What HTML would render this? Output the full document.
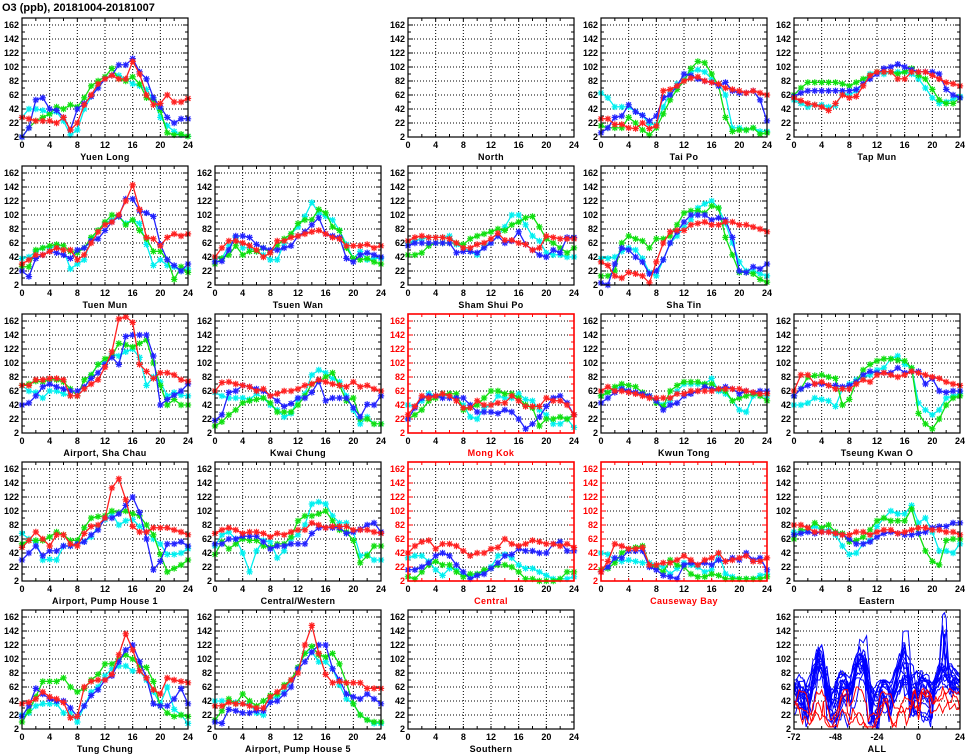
<!DOCTYPE html>
<html><head><meta charset="utf-8"><style>
html,body{margin:0;padding:0;background:#fff;}
svg{display:block;}
text{font-family:"Liberation Sans",sans-serif;font-weight:bold;}
</style></head>
<body>
<svg id="chart" width="965" height="755" viewBox="0 0 965 755" xmlns="http://www.w3.org/2000/svg">
<text x="2" y="11" font-size="11">O3 (ppb), 20181004-20181007</text>
</svg>
<script>
// series order in each station: [cyan(day1), green(day2), blue(day3), red(day4)]
const hours = [0,1,2,3,4,5,6,7,8,9,10,11,12,13,14,15,16,17,18,19,20,21,22,23,24];
const yTicks = [2,22,42,62,82,102,122,142,162];
const xTicks = [0,4,8,12,16,20,24];
const allXTicks = [-72,-48,-24,0,24];
const seriesColors = ['#00f0f0','#10e010','#2222ff','#ff2020'];
const seriesNames = ['cyan','green','blue','red'];

const yuenLong = [
[30,42,42,40,35,38,25,5,12,42,60,75,85,90,90,85,78,75,70,55,30,18,10,5,3],
[2,15,25,30,35,45,42,48,45,58,75,82,88,100,85,82,88,78,58,55,40,8,5,6,3],
[2,15,55,58,42,40,30,12,42,50,60,72,85,90,105,105,114,95,85,58,45,30,22,28,28],
[30,28,25,25,25,22,30,12,22,48,62,78,85,90,85,85,110,92,62,48,50,62,52,52,57]];
const taiPo = [
[65,58,45,45,45,38,33,20,20,45,65,78,85,95,98,95,85,78,62,15,15,12,15,10,10],
[18,15,15,15,30,22,12,5,15,35,55,70,82,100,110,108,92,75,30,10,12,12,15,6,8],
[8,15,30,32,48,38,33,25,32,58,62,75,92,90,85,82,80,75,80,68,65,65,68,55,25],
[28,28,20,20,15,14,22,14,18,68,70,75,82,86,88,82,80,78,72,70,68,65,68,65,62]];
const tapMun = [
[55,50,45,48,48,45,47,65,62,68,78,92,95,92,95,95,95,92,85,72,58,50,52,56,60],
[62,72,80,80,80,80,80,78,75,80,85,90,95,95,95,92,95,100,90,85,70,55,50,50,58],
[60,65,68,68,68,68,68,68,68,70,78,85,92,100,102,106,102,98,95,95,95,92,70,62,58],
[58,54,50,48,45,40,50,62,58,60,75,90,95,95,95,85,85,95,95,95,90,85,80,78,75]];
const tuenMun = [
[40,42,50,55,55,58,52,25,32,38,68,80,90,95,100,90,95,90,60,30,38,30,28,22,25],
[28,28,52,55,58,60,58,50,48,55,70,80,92,102,100,88,95,80,68,50,50,38,10,28,20],
[22,14,40,45,50,48,45,40,52,55,65,68,80,92,100,125,125,108,105,100,60,38,30,22,32],
[32,38,45,45,50,55,52,52,38,45,62,78,88,92,102,122,145,110,70,68,58,70,75,72,75]];
const tsuenWan = [
[40,40,58,70,55,55,50,45,38,38,62,75,85,100,120,105,100,95,80,60,40,50,38,40,40],
[32,40,45,58,45,50,50,55,48,58,68,75,90,95,95,110,105,85,80,55,40,38,40,35,32],
[35,36,52,72,72,70,60,55,52,52,55,58,72,78,88,98,75,72,70,40,35,45,48,45,42],
[42,55,65,65,62,58,52,42,48,65,65,70,72,75,78,80,75,70,68,58,58,58,60,55,58]];
const shamShuiPo = [
[62,65,68,70,70,70,72,60,55,50,45,58,62,72,85,102,102,88,72,65,48,45,45,42,42],
[45,45,48,58,62,62,62,62,60,68,72,75,78,82,80,88,92,98,100,85,68,62,55,48,55],
[58,62,62,62,62,62,62,48,50,50,48,55,62,72,62,65,78,60,52,45,42,52,48,70,70],
[65,70,72,70,70,70,68,62,55,55,60,62,68,76,66,66,62,60,52,55,72,70,68,68,68]];
const shaTin = [
[40,40,42,50,55,52,40,20,15,38,62,72,85,95,112,118,122,112,90,62,35,22,22,18,15],
[15,15,22,62,72,68,65,55,68,68,72,88,105,108,108,105,115,112,70,45,20,20,18,10,6],
[5,2,32,55,52,42,35,18,22,38,62,78,92,102,102,102,95,98,95,70,22,20,28,25,32],
[35,30,15,12,20,18,15,5,35,62,78,80,80,88,90,92,88,88,92,92,88,88,85,82,78]];
const airportShaChau = [
[70,62,60,52,62,62,58,55,55,65,85,100,102,115,112,118,122,110,70,82,75,55,60,56,55],
[70,72,76,75,78,78,75,65,55,78,85,100,108,112,130,128,125,130,135,102,70,42,50,42,42],
[42,45,55,68,72,68,65,62,62,68,80,88,100,110,100,140,142,142,142,112,42,50,56,62,72],
[70,70,78,78,80,80,78,55,55,65,72,78,96,118,165,168,160,100,90,80,88,88,85,78,76]];
const kwaiChung = [
[60,55,52,52,52,50,58,52,42,35,25,30,50,58,85,92,88,80,75,55,35,15,25,15,15],
[12,18,28,35,45,48,50,52,45,32,32,32,42,55,72,76,82,88,70,48,52,22,22,15,15],
[20,28,60,62,70,68,65,62,55,48,40,44,52,52,60,76,48,52,52,52,38,25,43,42,55],
[62,74,75,72,70,68,62,65,55,58,62,62,65,70,72,78,75,72,70,68,75,68,70,65,62]];
const mongKok = [
[42,40,48,58,55,55,55,52,42,25,22,38,42,55,52,52,58,50,48,35,28,15,15,22,10],
[22,28,35,48,52,58,58,58,35,38,42,52,62,62,58,58,52,42,38,12,22,22,25,22,28],
[22,38,52,55,55,52,52,52,52,42,32,32,32,30,35,32,22,8,15,25,40,52,55,45,28],
[28,40,55,52,55,58,55,48,38,38,48,42,42,45,45,55,48,40,40,40,52,48,48,42,28]];
const kwunTong = [
[55,60,65,68,62,60,58,55,48,42,48,62,72,72,72,72,80,62,58,48,35,32,55,55,55],
[55,60,68,72,70,68,60,55,45,40,62,70,75,75,75,72,72,65,62,48,52,55,58,55,48],
[45,52,60,65,62,60,58,55,48,35,42,45,55,58,62,68,65,65,68,65,58,62,60,62,62],
[62,68,62,62,60,58,55,52,52,52,52,58,58,62,62,62,62,65,65,65,65,62,60,58,58]];
const tseungKwanO = [
[42,42,45,52,50,48,40,65,72,78,82,85,92,95,108,112,100,95,45,35,28,35,52,55,58],
[55,65,82,84,85,82,80,42,50,75,92,100,105,108,108,106,105,95,30,15,8,22,42,52,55],
[55,65,70,72,72,70,70,68,70,75,85,90,88,88,88,95,88,90,90,72,80,62,60,62,62],
[62,85,85,72,75,70,65,65,65,72,78,75,85,88,85,82,85,90,88,85,82,80,75,72,70]];
const airportPH1 = [
[70,62,58,32,33,32,52,52,55,58,65,80,90,98,82,88,90,80,72,62,55,40,40,42,48],
[55,60,60,60,65,72,68,60,60,78,92,94,95,102,100,102,98,95,82,68,40,15,20,25,32],
[32,42,52,38,45,45,52,52,55,58,68,75,92,92,98,110,122,100,62,18,30,55,55,58,52],
[50,60,72,62,52,68,68,55,52,70,80,82,92,135,148,118,80,72,72,78,78,78,75,72,68]];
const centralWestern = [
[52,68,72,62,42,15,45,60,58,35,45,62,68,82,112,115,112,95,85,85,72,38,40,32,32],
[40,58,48,55,62,60,60,52,50,55,55,65,88,95,95,98,102,88,75,72,60,28,38,52,52],
[55,55,62,62,66,66,66,58,48,52,52,55,55,55,70,78,78,78,78,70,72,76,82,85,72],
[70,75,78,75,70,72,72,70,65,70,68,72,75,75,85,82,78,80,80,80,75,75,75,72,70]];
const central = [
[35,38,38,30,18,10,20,18,12,8,12,15,22,38,40,35,25,20,20,15,10,5,5,5,8],
[8,5,15,25,30,25,25,15,8,12,12,18,20,25,25,22,15,5,5,2,2,2,5,15,15],
[18,18,22,28,38,42,38,25,15,5,10,12,20,28,38,40,48,45,45,42,42,55,58,45,45],
[42,52,58,60,48,55,55,52,45,38,42,42,48,50,62,55,52,55,60,58,55,55,52,55,50]];
const causewayBay = [
[42,40,32,30,32,30,28,28,25,22,12,20,28,25,22,15,18,42,12,8,5,5,5,10,12],
[18,20,28,42,48,50,52,25,22,15,32,25,22,12,8,8,12,10,5,5,5,5,5,5,8],
[15,22,35,35,45,45,45,22,18,10,8,5,25,28,25,28,25,32,30,35,32,42,32,35,18],
[15,30,55,52,48,48,50,25,25,28,28,32,38,32,25,32,35,42,30,32,35,38,30,30,35]];
const eastern = [
[72,72,75,80,75,75,68,52,40,42,55,60,80,92,102,98,98,110,85,92,72,45,45,42,55],
[62,75,75,85,78,82,72,70,58,60,65,75,88,92,88,88,88,105,70,45,30,25,60,62,62],
[68,70,72,70,72,72,70,68,62,55,55,58,65,70,72,70,68,68,70,72,78,80,80,85,85],
[82,82,78,72,72,72,70,68,68,72,72,68,72,75,75,70,72,75,78,78,75,75,72,72,68]];
const tungChung = [
[22,25,35,38,38,38,25,25,12,35,55,62,78,88,92,92,85,85,72,55,38,62,30,22,10],
[12,28,48,70,70,70,75,62,55,60,72,80,95,95,102,108,102,92,90,70,35,25,20,22,20],
[20,35,60,52,45,42,42,32,20,35,50,58,72,78,98,115,122,98,75,38,35,35,45,60,38],
[38,40,45,55,48,45,40,18,20,62,70,72,72,80,108,138,115,85,75,58,52,75,72,70,68]];
const airportPH5 = [
[42,42,42,40,38,38,25,22,45,48,55,72,88,110,112,98,98,88,65,45,38,22,15,10,10],
[15,28,45,38,52,42,35,42,50,52,65,72,90,110,120,108,105,110,95,68,38,22,15,12,12],
[12,10,30,28,25,25,28,28,40,42,52,62,88,98,112,122,122,88,72,52,48,45,52,45,38],
[35,35,40,38,38,35,32,32,48,55,62,72,82,122,150,110,80,68,70,68,68,68,60,60,60]];

const panels = [
 {name:'Yuen Long',r:0,c:0,d:yuenLong},
 {name:'North',r:0,c:2,d:null},
 {name:'Tai Po',r:0,c:3,d:taiPo},
 {name:'Tap Mun',r:0,c:4,d:tapMun},
 {name:'Tuen Mun',r:1,c:0,d:tuenMun},
 {name:'Tsuen Wan',r:1,c:1,d:tsuenWan},
 {name:'Sham Shui Po',r:1,c:2,d:shamShuiPo},
 {name:'Sha Tin',r:1,c:3,d:shaTin},
 {name:'Airport, Sha Chau',r:2,c:0,d:airportShaChau},
 {name:'Kwai Chung',r:2,c:1,d:kwaiChung},
 {name:'Mong Kok',r:2,c:2,d:mongKok,road:true},
 {name:'Kwun Tong',r:2,c:3,d:kwunTong},
 {name:'Tseung Kwan O',r:2,c:4,d:tseungKwanO},
 {name:'Airport, Pump House 1',r:3,c:0,d:airportPH1},
 {name:'Central/Western',r:3,c:1,d:centralWestern},
 {name:'Central',r:3,c:2,d:central,road:true},
 {name:'Causeway Bay',r:3,c:3,d:causewayBay,road:true},
 {name:'Eastern',r:3,c:4,d:eastern},
 {name:'Tung Chung',r:4,c:0,d:tungChung},
 {name:'Airport, Pump House 5',r:4,c:1,d:airportPH5},
 {name:'Southern',r:4,c:2,d:null}
];

const NS='http://www.w3.org/2000/svg';
const svg=document.getElementById('chart');
const YMIN=2, YMAX=172, PW=166, PH=119;
function mk(tag,attrs,parent){const e=document.createElementNS(NS,tag);for(const k in attrs)e.setAttribute(k,attrs[k]);(parent||svg).appendChild(e);return e;}
function slug(s){return s.toLowerCase().replace(/[^a-z0-9]+/g,'-').replace(/-$/,'');}

function drawFrame(g,px,py,xmin,xmax,xt,grid,col,name){
  const sx=v=>px+(v-xmin)/(xmax-xmin)*PW;
  const sy=v=>py+PH-(v-YMIN)/(YMAX-YMIN)*PH;
  // grid
  let gp='';
  yTicks.forEach(v=>{if(v>YMIN)gp+=`M${px},${sy(v)}H${px+PW}`;});
  grid.forEach(v=>{gp+=`M${sx(v)},${py}V${py+PH}`;});
  const gr=mk('path',{d:gp,stroke:'#000','stroke-width':1,'stroke-dasharray':'1,2',fill:'none'},g);
  
  
  // minor ticks
  let tp='';
  for(let v=12;v<YMAX;v+=20){tp+=`M${px},${sy(v)}h3M${px+PW},${sy(v)}h-3`;}
  yTicks.forEach(v=>{tp+=`M${px},${sy(v)}h5M${px+PW},${sy(v)}h-5`;});
  const step=(xmax-xmin)/12;
  for(let v=xmin;v<=xmax;v+=step){tp+=`M${sx(v)},${py+PH}v-3M${sx(v)},${py}v3`;}
  const tk=mk('path',{d:tp,stroke:col,'stroke-width':1,fill:'none'},g);
  
  
  // y labels
  yTicks.forEach(v=>{
    const t=mk('text',{x:px-3,y:sy(v)+3,'font-size':9,'text-anchor':'end',fill:col},g);
    t.textContent=v;
    
    
  });
  xt.forEach(v=>{
    const t=mk('text',{x:sx(v),y:py+PH+11,'font-size':9,'text-anchor':'middle',fill:'#000'},g);
    t.textContent=v;
    
    
  });
  const tt=mk('text',{x:px+PW/2,y:py+PH+23,'font-size':9,'text-anchor':'middle',fill:col,'letter-spacing':'0.4'},g);
  tt.textContent=name;
  
  
  return {sx,sy};
}
function drawBorder(g,px,py,col,road){
  const b=mk('rect',{x:px,y:py,width:PW,height:PH,fill:'none',stroke:col,'stroke-width':road?1.6:1.2},g);
  
  
}

panels.forEach(p=>{
  const px=22+193*p.c, py=18+148*p.r;
  const col=p.road?'#ff0000':'#000';
  const g=mk('g',{});
  
  
  const {sx,sy}=drawFrame(g,px,py,0,24,xTicks,[4,8,12,16,20],col,p.name);
  if(p.d){
    p.d.forEach((ser,si)=>{
      let d='',m='';
      ser.forEach((v,i)=>{
        const x=sx(hours[i]),y=sy(v);
        d+=(i?'L':'M')+x.toFixed(1)+','+y.toFixed(1);
        const r=3.2;
        m+=`M${x-r},${y}h${2*r}M${x},${y-r}v${2*r}M${x-2.4},${y-2.4}l4.8,4.8M${x-2.4},${y+2.4}l4.8,-4.8`;
      });
      const ln=mk('path',{d:d,stroke:seriesColors[si],'stroke-width':1.3,fill:'none'},g);
      
      
      const mkp=mk('path',{d:m,stroke:seriesColors[si],'stroke-width':1.2,fill:'none'},g);
      
      
    });
  }
  drawBorder(g,px,py,col,p.road);
});

// ALL panel: concatenated 4-day series per station
(function(){
  const px=22+193*4, py=18+148*4;
  const g=mk('g',{});
  
  
  const {sx,sy}=drawFrame(g,px,py,-72,24,allXTicks,[-48,-24,0],'#000','ALL');
  const clip=mk('clipPath',{id:'allclip'},g);
  mk('rect',{x:px,y:py,width:PW,height:PH},clip);
  const inner=mk('g',{'clip-path':'url(#allclip)'},g);
  const order=panels.filter(p=>p.d&&!p.road).concat(panels.filter(p=>p.d&&p.road));
  order.forEach(p=>{
    let d='',first=true;
    p.d.forEach((ser,si)=>{
      ser.forEach((v,i)=>{
        if(si<3&&i===24)return;
        const x=sx(-72+si*24+hours[i]),y=sy(v);
        d+=(first?'M':'L')+x.toFixed(1)+','+y.toFixed(1);first=false;
      });
    });
    const ln=mk('path',{d:d,stroke:p.road?'#ff0000':'#0000ff','stroke-width':1,fill:'none'},inner);
    
    
  });
  drawBorder(g,px,py,'#000',false);
})();
</script>
</body></html>
